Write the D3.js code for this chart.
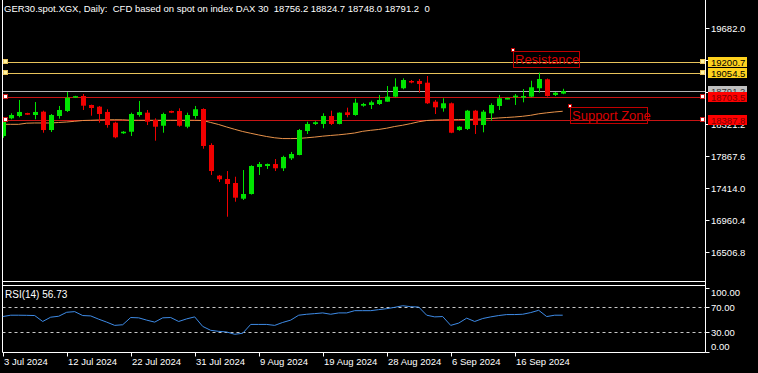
<!DOCTYPE html>
<html><head><meta charset="utf-8">
<script src="https://cdn.jsdelivr.net/npm/d3@7/dist/d3.min.js"></script>
<style>html,body{margin:0;padding:0;background:#000;}svg{display:block;}</style>
</head><body>
<script>
const titleText = "GER30.spot.XGX, Daily:  CFD based on spot on index DAX 30  18756.2 18824.7 18748.0 18791.2  0";
const opens = [18155,18406,18439,18481,18453,18500,18240,18439,18510,18705,18722,18595,18571,18496,18344,18194,18216,18453,18486,18382,18301,18510,18510,18287,18439,18538,18028,17593,17546,17489,17267,17333,17716,17730,17758,17698,17839,17886,18226,18326,18326,18439,18326,18491,18453,18585,18595,18609,18642,18713,18832,18935,18935,18911,18642,18548,18619,18240,18255,18514,18311,18477,18581,18680,18713,18704,18713,18832,18959,18737,18756.2];
const highs = [18380,18477,18666,18485,18637,18514,18467,18581,18779,18725,18751,18600,18581,18534,18358,18225,18486,18652,18524,18406,18486,18515,18548,18486,18581,18548,18052,17603,17659,17578,17673,17740,17787,17765,17829,17876,17929,18255,18358,18365,18477,18514,18490,18557,18684,18625,18656,18737,18864,18973,18973,18949,18963,19006,18666,18690,18630,18295,18525,18525,18524,18619,18737,18700,18751,18821,18939,19053,18970,18779,18824.7];
const lows = [18130,18392,18420,18453,18392,18202,18212,18401,18496,18695,18524,18443,18344,18273,18123,18185,18155,18429,18311,18089,18202,18480,18287,18265,18401,17975,17603,17503,17011,17224,17248,17325,17603,17688,17659,17659,17815,17882,18184,18311,18265,18311,18320,18420,18443,18570,18538,18595,18641,18704,18817,18902,18769,18609,18467,18500,18195,18230,18240,18184,18208,18372,18524,18675,18595,18633,18704,18769,18713,18722,18748.0];
const closes = [18358,18453,18496,18457,18496,18240,18453,18524,18698,18720,18585,18552,18467,18311,18137,18216,18467,18496,18358,18287,18467,18486,18301,18453,18534,18014,17659,17542,17475,17281,17333,17730,17758,17758,17698,17858,17900,18240,18326,18350,18439,18326,18486,18453,18627,18609,18633,18666,18713,18854,18949,18917,18893,18619,18562,18619,18202,18287,18514,18311,18500,18595,18690,18694,18727,18722,18846,18963,18722,18769,18791.2];
const maValues = [18321,18321,18321,18337,18340,18340,18340,18347,18354,18364,18375,18378,18382,18385,18386,18385,18379,18378,18378,18378,18378,18378,18378,18378,18378,18375,18347,18318,18283,18250,18219,18194,18170,18148,18130,18119,18119,18121,18130,18140,18153,18163,18172,18184,18198,18222,18236,18248,18266,18290,18308,18331,18357,18375,18381,18384,18385,18388,18389,18392,18396,18403,18411,18418,18425,18435,18449,18470,18484,18496,18506];
const rsiValues = [54.6,56.7,56.7,56.5,56.2,46.9,53.6,55.1,61.3,62.3,56.2,55.6,50.5,45.9,40.8,41.8,53.1,52.6,49.0,45.9,52.6,53.1,46.9,51.0,54.1,39.2,33.1,31.5,30.5,26.9,28.5,42.3,42.3,42.3,40.8,45.4,49.0,56.7,58.2,59.2,60.3,58.2,60.3,60.3,63.8,63.8,63.8,65.4,66.9,69.0,71.5,70.0,69.5,56.7,54.1,54.6,40.8,44.4,52.1,46.9,51.5,54.1,56.2,57.7,57.7,58.2,60.8,64.4,54.6,56.7,56.73];
const dateLabels = ["3 Jul 2024","12 Jul 2024","22 Jul 2024","31 Jul 2024","9 Aug 2024","19 Aug 2024","28 Aug 2024","6 Sep 2024","16 Sep 2024"];
const dateLabelStep = 8;
const priceTicks = [19682.0,19228.4,18774.8,18321.2,17867.6,17414.0,16960.4,16506.8];
const rsiTicks = [100,70,30,0];
const rsiLevels = [70,30];
const resistanceLevels = [19200.7,19054.5];
const supportLevels = [18703.5,18387.8];
const lastPrice = 18791.2;
const rsiTitle = "RSI(14) 56.73";

const W = 758, H = 373;
const svg = d3.select("body").append("svg").attr("width", W).attr("height", H)
  .style("font-family","'Liberation Sans', Arial, sans-serif");
svg.append("rect").attr("width",W).attr("height",H).attr("fill","#000");

const left = 2.5, axisX = 705.5, mainBottom = 281.5, rsiTop = 285.5, rsiBottom = 352.5;
const x = d3.scaleLinear().domain([0, 70]).range([2.7, 562.7]);
const y = d3.scaleLinear().domain([16506.8, 19682.0]).range([252.3, 28.3]);
const yr = d3.scaleLinear().domain([0, 100]).range([351.5, 287.5]);

const defs = svg.append("defs");
defs.append("clipPath").attr("id","mainclip").append("rect")
  .attr("x", left).attr("y", 0).attr("width", axisX-left).attr("height", mainBottom);
defs.append("clipPath").attr("id","rsiclip").append("rect")
  .attr("x", left).attr("y", rsiTop).attr("width", axisX-left).attr("height", rsiBottom-rsiTop);

const main = svg.append("g").attr("clip-path","url(#mainclip)");

const lvl = [
  ...resistanceLevels.map(v=>({v, c:"#E8C35A", fill:"#FFF3A0", box:"#FFD21E", txt:"#000"})),
  ...supportLevels.map(v=>({v, c:"#C81414", fill:"#FFFFFF", box:"#FF0000", txt:"#7A0000"}))
];
main.append("line").attr("x1",left).attr("x2",axisX).attr("y1",Math.round(y(lastPrice))+0.5).attr("y2",Math.round(y(lastPrice))+0.5)
  .attr("stroke","#B4B4B4").attr("stroke-width",1);
lvl.forEach(d=>{
  const yy = Math.round(y(d.v))+0.5;
  main.append("line").attr("x1",left).attr("x2",axisX).attr("y1",yy).attr("y2",yy).attr("stroke",d.c).attr("stroke-width",1);
});

main.append("path").datum(maValues)
  .attr("d", d3.line().x((d,i)=>x(i)).y(d=>y(d)))
  .attr("fill","none").attr("stroke","#E8924A").attr("stroke-width",1);

const idx = d3.range(opens.length);
const cg = main.append("g");
idx.forEach(i=>{
  const bull = closes[i] >= opens[i];
  const col = bull ? "#00E400" : "#F00000";
  const cx = Math.round(x(i));
  cg.append("line").attr("x1",cx+0.5).attr("x2",cx+0.5)
    .attr("y1",y(highs[i])).attr("y2",y(lows[i])).attr("stroke",col).attr("stroke-width",1);
  const top = y(Math.max(opens[i],closes[i])), bot = y(Math.min(opens[i],closes[i]));
  cg.append("rect").attr("x",cx-2).attr("width",5)
    .attr("y",top).attr("height",Math.max(1.5,bot-top)).attr("fill",col);
});

lvl.forEach(d=>{
  const yy = Math.round(y(d.v));
  [3, 700].forEach(xx=>{
    svg.append("rect").attr("x",xx+0.5).attr("y",yy-2.5).attr("width",4).attr("height",4)
      .attr("fill",d.fill).attr("stroke",d.c).attr("stroke-width",1);
  });
});

function textObj(label, x0, y0, w, h){
  svg.append("rect").attr("x",x0+0.5).attr("y",y0+0.5).attr("width",w).attr("height",h)
    .attr("fill","none").attr("stroke","#C00000").attr("stroke-width",1);
  svg.append("text").attr("x",x0+2).attr("y",y0+h-3).text(label)
    .attr("fill","#D80000").attr("font-size","13px");
  svg.append("rect").attr("x",x0-1.5).attr("y",y0-2.5).attr("width",3).attr("height",3)
    .attr("fill","#fff").attr("stroke","#C00000").attr("stroke-width",1);
}
textObj("Resistance", 513, 51, 66, 16);
textObj("Support Zone", 570, 107, 77, 16);

svg.append("line").attr("x1",left).attr("x2",left).attr("y1",0).attr("y2",rsiBottom).attr("stroke","#fff");
svg.append("line").attr("x1",axisX).attr("x2",axisX).attr("y1",0).attr("y2",rsiBottom).attr("stroke","#fff");
svg.append("line").attr("x1",left).attr("x2",axisX).attr("y1",mainBottom).attr("y2",mainBottom).attr("stroke","#fff");
svg.append("line").attr("x1",left).attr("x2",axisX).attr("y1",rsiTop).attr("y2",rsiTop).attr("stroke","#fff");
svg.append("line").attr("x1",left).attr("x2",axisX).attr("y1",rsiBottom).attr("y2",rsiBottom).attr("stroke","#fff");

// price axis; labels fully hidden behind level boxes are not drawn
const boxLevels = [lastPrice, ...resistanceLevels, ...supportLevels];
const pa = svg.append("g");
priceTicks.forEach(t=>{
  const yy = Math.round(y(t))+0.5;
  pa.append("line").attr("x1",axisX).attr("x2",axisX+4).attr("y1",yy).attr("y2",yy).attr("stroke","#fff");
  const hidden = boxLevels.some(b=>Math.abs(y(b)-y(t))<4);
  if(!hidden){
    const near = boxLevels.some(b=>Math.abs(y(b)-y(t))<10);
    const tx = pa.append("text").attr("x",711).attr("y",yy+3.5).text(t.toFixed(1)).attr("fill","#fff").attr("font-size","9.5px");
    if(near){
      defs.append("clipPath").attr("id","tclip").append("rect").attr("x",706).attr("y",yy-0.5).attr("width",50).attr("height",10);
      tx.attr("clip-path","url(#tclip)");
    }
  }
});

function priceBox(v, fill, txt){
  const yy = Math.round(y(v));
  svg.append("rect").attr("x",708).attr("y",yy-5).attr("width",39).attr("height",10).attr("fill",fill);
  svg.append("text").attr("x",711).attr("y",yy+3.5).text(v.toFixed(1)).attr("fill",txt).attr("font-size","9.5px");
}
priceBox(lastPrice, "#C0C0C0", "#333");
lvl.forEach(d=>priceBox(d.v, d.box, d.txt));

svg.append("text").attr("x",4).attr("y",12).text(titleText).attr("fill","#fff")
  .attr("font-size","9.5px").style("white-space","pre");

const rg = svg.append("g").attr("clip-path","url(#rsiclip)");
rsiLevels.forEach(l=>{
  const yy = Math.round(yr(l))+0.5;
  rg.append("line").attr("x1",left).attr("x2",axisX).attr("y1",yy).attr("y2",yy)
    .attr("stroke","#C8C8C8").attr("stroke-dasharray","3,3");
});
rg.append("path").datum(rsiValues)
  .attr("d", d3.line().x((d,i)=>x(i)).y(d=>yr(d)))
  .attr("fill","none").attr("stroke","#3E8BE6").attr("stroke-width",1);
svg.append("text").attr("x",5).attr("y",298).text(rsiTitle).attr("fill","#fff").attr("font-size","10px");
rsiTicks.forEach(t=>{
  const yy = Math.round(yr(t))+0.5;
  svg.append("line").attr("x1",axisX).attr("x2",axisX+4).attr("y1",yy).attr("y2",yy).attr("stroke","#fff");
  const ly = Math.min(Math.max(yy, 292), 346.5);
  svg.append("text").attr("x",711).attr("y",ly+3.5).text(t.toFixed(2)).attr("fill","#fff").attr("font-size","9.5px");
});

dateLabels.forEach((lab,i)=>{
  const xx = Math.round(x(i*dateLabelStep))+0.5;
  svg.append("line").attr("x1",xx).attr("x2",xx).attr("y1",rsiBottom).attr("y2",rsiBottom+4).attr("stroke","#fff");
  svg.append("text").attr("x",xx+0.5).attr("y",365).text(lab).attr("fill","#fff").attr("font-size","9.5px");
});
</script>
</body></html>
